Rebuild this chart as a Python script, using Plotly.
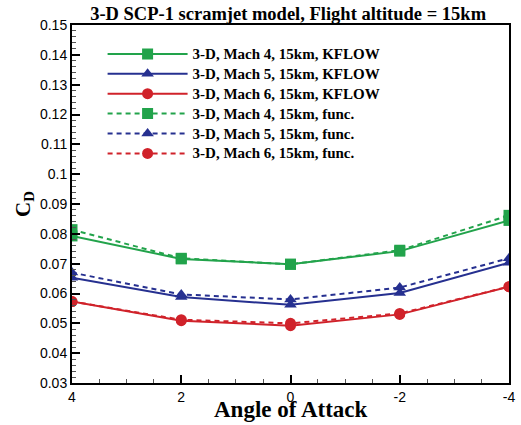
import plotly.graph_objects as go

# Angle of attack (deg) and drag coefficient for each Mach number
alpha = [4, 2, 0, -2, -4]

cd_m4_kflow = [0.0793, 0.0716, 0.0698, 0.0742, 0.0845]
cd_m5_kflow = [0.0653, 0.0588, 0.0562, 0.0602, 0.0703]
cd_m6_kflow = [0.0573, 0.0509, 0.0492, 0.0530, 0.0623]

cd_m4_func = [0.0814, 0.0718, 0.0698, 0.0745, 0.0862]
cd_m5_func = [0.0670, 0.0597, 0.0580, 0.0620, 0.0718]
cd_m6_func = [0.0573, 0.0512, 0.0500, 0.0533, 0.0623]

y_ticks = [0.03, 0.04, 0.05, 0.06, 0.07, 0.08, 0.09, 0.1, 0.11, 0.12, 0.13, 0.14, 0.15]
y_tick_text = ["0.03", "0.04", "0.05", "0.06", "0.07", "0.08", "0.09", "0.1",
               "0.11", "0.12", "0.13", "0.14", "0.15"]
x_ticks = [4, 2, 0, -2, -4]

GREEN = "#22a34b"
BLUE = "#263090"
RED = "#d0222a"

series = [
    ("3-D, Mach 4, 15km, KFLOW", cd_m4_kflow, GREEN, "square", "solid"),
    ("3-D, Mach 5, 15km, KFLOW", cd_m5_kflow, BLUE, "triangle-up", "solid"),
    ("3-D, Mach 6, 15km, KFLOW", cd_m6_kflow, RED, "circle", "solid"),
    ("3-D, Mach 4, 15km, func.", cd_m4_func, GREEN, "square", "5px,4px"),
    ("3-D, Mach 5, 15km, func.", cd_m5_func, BLUE, "triangle-up", "5px,4px"),
    ("3-D, Mach 6, 15km, func.", cd_m6_func, RED, "circle", "5px,4px"),
]

fig = go.Figure()
for name, vals, color, symbol, dash in series:
    fig.add_trace(go.Scatter(
        x=alpha, y=vals,
        name='<span style="font-size:15px"><b>' + name + "</b></span>",
        mode="lines+markers",
        line=dict(color=color, width=2, dash=dash),
        marker=dict(symbol=symbol, size=11, color=color),
    ))

serif = "Liberation Serif"
sans = "Liberation Sans"

fig.update_layout(
    width=521, height=425,
    margin=dict(l=72, r=12, t=25, b=42),
    paper_bgcolor="white", plot_bgcolor="white",
    title=dict(text="<b>3-D SCP-1 scramjet model, Flight altitude = 15km</b>",
               x=0.553, xanchor="center", y=0.968, yanchor="middle",
               font=dict(family=serif, size=18.5, color="black")),
    showlegend=True,
    legend=dict(x=0.07, y=0.961, xanchor="left", yanchor="top",
                bgcolor="rgba(0,0,0,0)", borderwidth=0,
                font=dict(family=serif, size=13, color="black"),
                tracegroupgap=0, itemwidth=80),
    xaxis=dict(
        range=[4, -4], tickvals=x_ticks, ticktext=[str(v) for v in x_ticks],
        ticks="inside", ticklen=8, tickwidth=2, tickcolor="black",
        minor=dict(dtick=0.5, ticks="inside", ticklen=4, tickwidth=1, tickcolor="#555"),
        showline=True, linecolor="black", linewidth=2, mirror=True,
        showgrid=False, zeroline=False, automargin=False,
        tickfont=dict(family=sans, size=14, color="black"),
    ),
    yaxis=dict(
        range=[0.03, 0.15], tickvals=y_ticks, ticktext=y_tick_text,
        ticks="inside", ticklen=8, tickwidth=2, tickcolor="black",
        minor=dict(dtick=0.002, ticks="inside", ticklen=4, tickwidth=1, tickcolor="#555"),
        showline=True, linecolor="black", linewidth=2, mirror=True,
        showgrid=False, zeroline=False, automargin=False,
        tickfont=dict(family=sans, size=14, color="black"),
        title=dict(text="<b>C<sub>D</sub></b>", standoff=4,
                   font=dict(family=serif, size=21, color="black")),
    ),
    annotations=[dict(
        text="<b>Angle of Attack</b>", xref="paper", yref="paper",
        x=0.5, y=-0.074, xanchor="center", yanchor="middle", showarrow=False,
        borderpad=0, font=dict(family=serif, size=23, color="black"),
    )],
)

fig.write_html("out.html")
